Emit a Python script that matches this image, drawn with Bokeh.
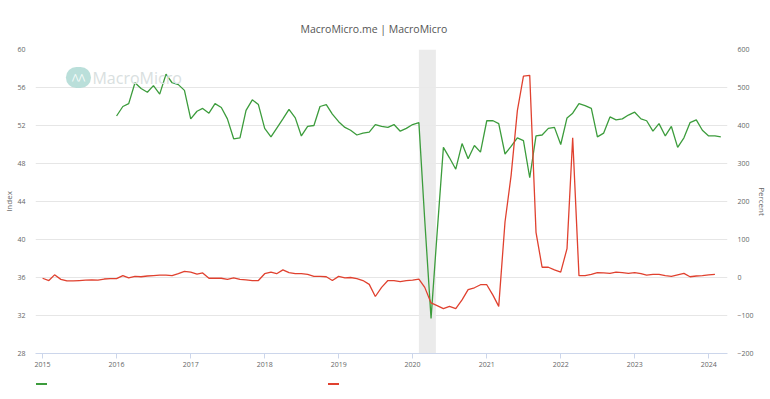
import pandas as pd
from bokeh.plotting import figure
from bokeh.layouts import column
from bokeh.models import (Range1d, LinearAxis, FixedTicker, BoxAnnotation, Div,
                          Label, DatetimeTickFormatter, ColumnDataSource)
from bokeh.embed import file_html
from bokeh.resources import INLINE

# ---------------- data ----------------
index_start = "2016-01-01"
index_values = [
    53.0, 54.0, 54.3, 56.5, 55.9, 55.5, 56.2, 55.3, 57.4, 56.5, 56.3, 55.7,   # 2016
    52.7, 53.5, 53.8, 53.3, 54.3, 53.9, 52.7, 50.6, 50.7, 53.6, 54.7, 54.2,   # 2017
    51.7, 50.8, 51.7, 52.7, 53.7, 52.8, 50.9, 51.9, 52.0, 54.0, 54.2, 53.2,   # 2018
    52.4, 51.8, 51.5, 51.0, 51.2, 51.3, 52.1, 51.9, 51.8, 52.1, 51.4, 51.7,   # 2019
    52.1, 52.3, 42.0, 31.7, 40.7, 49.7, 48.6, 47.4, 50.1, 48.5, 49.9, 49.2,   # 2020
    52.5, 52.5, 52.2, 49.0, 49.8, 50.7, 50.4, 46.5, 50.9, 51.0, 51.7, 51.8,   # 2021
    50.0, 52.8, 53.3, 54.3, 54.1, 53.8, 50.8, 51.2, 52.9, 52.6, 52.7, 53.1,   # 2022
    53.4, 52.7, 52.5, 51.4, 52.2, 50.9, 51.9, 49.7, 50.7, 52.3, 52.6, 51.5,   # 2023
    50.9, 50.9, 50.8,                                                         # 2024
]

percent_start = "2015-01-01"
percent_values = [
    -2, -8, 7, -5, -9, -9, -8, -7, -6, -7, -4, -3,            # 2015
    -3, 5, -1, 3, 2, 4, 5, 6, 6, 5, 10, 16,                   # 2016
    14, 9, 12, -2, -2, -2, -5, -1, -5, -6, -8, -8,            # 2017
    10, 14, 10, 20, 13, 10, 10, 8, 3, 3, 2, -8,               # 2018
    3, -1, 0, -3, -8, -18, -50, -26, -8, -8, -11, -8,         # 2019
    -7, -4, -26, -67, -74, -82, -76, -82, -59, -32, -27, -19, # 2020
    -19, -47, -76, 146, 268, 439, 530, 532, 119, 27, 27, 20,  # 2021
    14, 76, 368, 5, 5, 8, 13, 12, 11, 14, 13, 11,             # 2022
    13, 10, 6, 8, 8, 5, 3, 7, 11, 2, 4, 5,                    # 2023
    7, 8,                                                     # 2024
]

year_ticks = [2015, 2016, 2017, 2018, 2019, 2020, 2021, 2022, 2023, 2024]
index_ticks = [28, 32, 36, 40, 44, 48, 52, 56, 60]
percent_ticks = [-200, -100, 0, 100, 200, 300, 400, 500, 600]
recession = ("2020-02-01", "2020-04-25")
x_limits = ("2014-11-27", "2024-04-03")

# ---------------- build ----------------
idx_dates = pd.date_range(index_start, periods=len(index_values), freq="MS")
pct_dates = pd.date_range(percent_start, periods=len(percent_values), freq="MS")
src_idx = ColumnDataSource(dict(x=idx_dates, y=index_values))
src_pct = ColumnDataSource(dict(x=pct_dates, y=percent_values))

FONT = "Open Sans"
GREY = "#666666"
GREEN = "#3c9c3c"
RED = "#e0412f"

p = figure(width=770, height=375, x_axis_type="datetime",
           x_range=Range1d(pd.Timestamp(x_limits[0]), pd.Timestamp(x_limits[1])),
           y_range=Range1d(index_ticks[0], index_ticks[-1]),
           output_backend="svg", toolbar_location=None,
           min_border_left=35, min_border_right=42, min_border_top=49, min_border_bottom=22)
p.outline_line_color = None
p.background_fill_color = "white"
p.border_fill_color = "white"

p.title.text = "MacroMicro.me | MacroMicro"
p.title.align = "left"
p.title.text_font = FONT
p.title.text_font_size = "10.5px"
p.title.text_font_style = "normal"
p.title.text_color = "#555555"
p.title.offset = 265
p.title.standoff = 28

p.extra_y_ranges = {"pct": Range1d(percent_ticks[0], percent_ticks[-1])}

# recession shading
p.add_layout(BoxAnnotation(left=pd.Timestamp(recession[0]), right=pd.Timestamp(recession[1]),
                           fill_color="#e9e9e9", fill_alpha=0.9, line_color=None, level="underlay"))

r_idx = p.line("x", "y", source=src_idx, color=GREEN, line_width=1.3)
r_pct = p.line("x", "y", source=src_pct, color=RED, line_width=1.3, y_range_name="pct")

# x axis
xa = p.xaxis[0]
xa.ticker = FixedTicker(ticks=[pd.Timestamp(f"{y}-01-01").value / 1e6 for y in year_ticks])
xa.formatter = DatetimeTickFormatter(years="%Y", months="%Y", days="%Y")
xa.axis_line_color = "#ccd6eb"
xa.major_tick_line_color = "#ccd6eb"
xa.major_tick_in = 0
xa.major_tick_out = 5
xa.minor_tick_line_color = None
xa.major_label_text_font = FONT
xa.major_label_text_font_size = "7px"
xa.major_label_text_color = GREY
xa.major_label_standoff = 3

# left axis
ya = p.yaxis[0]
ya.ticker = FixedTicker(ticks=index_ticks)
ya.axis_label = "Index"
ya.axis_line_color = None
ya.major_tick_line_color = None
ya.minor_tick_line_color = None
ya.major_label_text_font = FONT
ya.major_label_text_font_size = "7px"
ya.major_label_text_color = GREY
ya.major_label_standoff = 4
ya.axis_label_text_font = FONT
ya.axis_label_text_font_size = "8px"
ya.axis_label_text_font_style = "normal"
ya.axis_label_text_color = GREY
ya.axis_label_standoff = 0

# right axis
ra = LinearAxis(y_range_name="pct", ticker=FixedTicker(ticks=percent_ticks), axis_label="Percent")
ra.axis_line_color = None
ra.major_tick_line_color = None
ra.minor_tick_line_color = None
ra.major_label_text_font = FONT
ra.major_label_text_font_size = "7px"
ra.major_label_text_color = GREY
ra.major_label_standoff = 4
ra.axis_label_text_font = FONT
ra.axis_label_text_font_size = "8px"
ra.axis_label_text_font_style = "normal"
ra.axis_label_text_color = GREY
ra.axis_label_standoff = 0
p.add_layout(ra, "right")

p.xgrid.grid_line_color = None
p.ygrid.grid_line_color = "#e6e6e6"
p.ygrid.ticker = FixedTicker(ticks=index_ticks)

# watermark
p.add_layout(Label(x=pd.Timestamp("2015-06-27"), y=57.05, text="⋀⋀", text_font="DejaVu Sans",
                   text_font_size="8px", text_color="white", text_align="center",
                   text_baseline="middle", background_fill_color="#b3dcd6",
                   background_fill_alpha=0.9, border_radius=11, padding=6))
p.add_layout(Label(x=pd.Timestamp("2015-09-04"), y=57.05, text="MacroMicro", text_font=FONT,
                   text_font_size="16px", text_color="#d9e0e0", text_baseline="middle"))

# legend strip (series swatches only, as in the source) under the chart
swatch = ('<span style="position:absolute;left:{l}px;top:8px;width:11px;height:2px;'
          'background:{c};"></span>')
legend_html = ('<div style="position:relative;width:770px;height:24px;">'
               + swatch.format(l=36, c=GREEN) + swatch.format(l=328, c=RED) + '</div>')
leg = Div(text=legend_html, width=770, height=24, margin=0)

open("out.html", "w").write(file_html(column(p, leg, spacing=0), INLINE))
